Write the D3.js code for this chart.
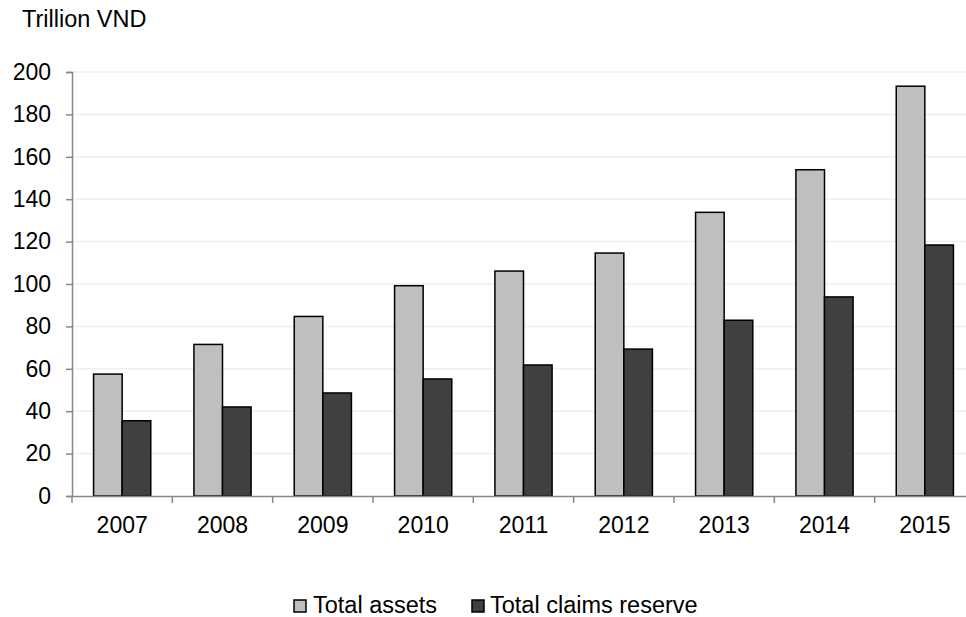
<!DOCTYPE html>
<html><head><meta charset="utf-8">
<script src="https://cdn.jsdelivr.net/npm/d3@7/dist/d3.min.js"></script>
<style>body{margin:0;background:#fff}svg{display:block;font-family:"Liberation Sans",Arial,sans-serif}</style>
</head><body><svg id="c" width="966" height="617"></svg>
<script>
const years = ["2007","2008","2009","2010","2011","2012","2013","2014","2015"];
const totalAssets = [57.5, 71.5, 84.7, 99.2, 106.1, 114.6, 133.8, 153.9, 193.3];
const totalClaimsReserve = [35.5, 42.0, 48.6, 55.2, 61.8, 69.3, 82.9, 93.9, 118.4];
const yTicks = [0,20,40,60,80,100,120,140,160,180,200];
const seriesNames = ["Total assets","Total claims reserve"];
const seriesColors = ["#bfbfbf","#404040"];

const svg = d3.select("#c");
const x0 = 72, x1 = 975, yTop = 72, yBot = 496;
const x = d3.scaleBand().domain(years).range([x0, x1]).paddingInner(0).paddingOuter(0);
const y = d3.scaleLinear().domain([0,200]).range([yBot, yTop]);
const bw = x.bandwidth()*0.285;
const FONT = "Liberation Sans, Arial, sans-serif";

// gridlines
svg.append("g").selectAll("line").data(yTicks.filter(d=>d>0)).join("line")
  .attr("x1", x0).attr("x2", 966).attr("y1", d=>y(d)).attr("y2", d=>y(d))
  .attr("stroke", "#efefef").attr("stroke-width", 1.5);

// bars
const series = [totalAssets, totalClaimsReserve];
series.forEach((vals, si) => {
  svg.append("g").selectAll("rect").data(years).join("rect")
    .attr("x", d => x(d) + x.bandwidth()/2 - bw + si*bw)
    .attr("y", (d,i) => y(vals[i]))
    .attr("width", bw)
    .attr("height", (d,i) => y(0) - y(vals[i]))
    .attr("fill", seriesColors[si])
    .attr("stroke", "#000").attr("stroke-width", 1.5);
});

// y axis
const yAxis = d3.axisLeft(y).tickValues(yTicks).tickSize(6).tickPadding(15);
const gy = svg.append("g").attr("transform", `translate(${x0},0)`).call(yAxis);
gy.attr("font-size", 23).attr("font-family", FONT);
gy.select(".domain").attr("stroke", "#888").attr("stroke-width", 1.5);
gy.selectAll(".tick line").attr("stroke", "#888").attr("stroke-width", 1.5);
gy.selectAll("text").attr("fill", "#000");

// x axis
const xAxis = d3.axisBottom(x).tickSize(0).tickPadding(21);
const gx = svg.append("g").attr("transform", `translate(0,${yBot})`).call(xAxis);
gx.attr("font-size", 23).attr("font-family", FONT);
gx.select(".domain").attr("stroke", "#888").attr("stroke-width", 1.5);
gx.selectAll("text").attr("fill", "#000");
// category separator ticks
svg.append("g").selectAll("line").data(years).join("line")
  .attr("x1", d=>x(d)).attr("x2", d=>x(d)).attr("y1", yBot).attr("y2", yBot+7)
  .attr("stroke", "#888").attr("stroke-width", 1.5);

// unit label
svg.append("text").attr("x", 22).attr("y", 27).attr("font-size", 23.5).attr("font-family", FONT).attr("fill", "#000").text("Trillion VND");

// legend
const legend = [{x:294, tx:313}, {x:472, tx:490}];
seriesNames.forEach((n, i) => {
  svg.append("rect").attr("x", legend[i].x).attr("y", 600).attr("width", 12).attr("height", 12)
    .attr("fill", seriesColors[i]).attr("stroke", "#000").attr("stroke-width", 1.5);
  svg.append("text").attr("x", legend[i].tx).attr("y", 613).attr("font-size", 23.5).attr("font-family", FONT).attr("fill", "#000").text(n);
});
</script></body></html>
